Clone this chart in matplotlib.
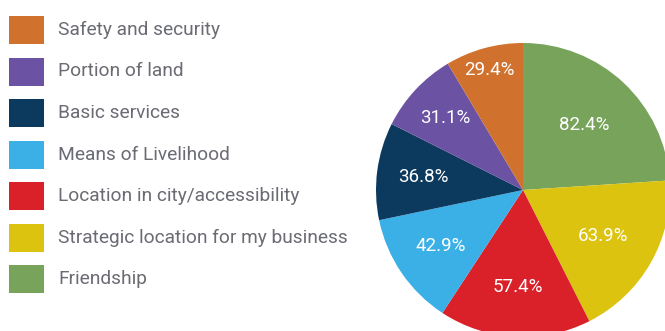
import matplotlib.pyplot as plt
from matplotlib.patches import Rectangle
import numpy as np

# Pie data, in drawing order (clockwise from the top)
labels = ['Friendship', 'Strategic location for my business', 'Location in city/accessibility',
          'Means of Livelihood', 'Basic services', 'Portion of land', 'Safety and security']
values = [82.4, 63.9, 57.4, 42.9, 36.8, 31.1, 29.4]
colors = ['#77A35A', '#DCC30F', '#DA2029', '#3AB0E6', '#0C3A5E', '#6B52A3', '#D0722E']

# how far out each percent label sits (fraction of radius)
label_dist = [0.61, 0.63, 0.66, 0.68, 0.68, 0.72, 0.85]

FONT = ['Roboto', 'DejaVu Sans']
W, H = 665, 331

fig = plt.figure(figsize=(W / 100, H / 100), dpi=100)

# pie centre (523,190) px, radius 147 px -- runs off the right/bottom edge
cx, cy, r = 523, 190, 147
ax = fig.add_axes([(cx - r) / W, (H - cy - r) / H, 2 * r / W, 2 * r / H])
ax.pie(values, colors=colors, startangle=90, counterclock=False,
       wedgeprops=dict(linewidth=0))
ax.set_xlim(-1, 1)
ax.set_ylim(-1, 1)
ax.set_aspect('equal')
ax.axis('off')

# percent labels (the values themselves, not share of total)
total = sum(values)
ang = 90.0
for v, d in zip(values, label_dist):
    span = v / total * 360
    mid = np.deg2rad(ang - span / 2)
    ax.text(d * np.cos(mid), d * np.sin(mid), f'{v:.1f}%', color='white',
            ha='center', va='center', fontsize=13.5, family=FONT)
    ang -= span

# legend, drawn by hand (Safety first, Friendship last)
y0, step = 30, 41.5
for i, (lab, col) in enumerate(zip(labels[::-1], colors[::-1])):
    yc = y0 + i * step
    fig.patches.append(Rectangle((9 / W, (H - yc - 14) / H), 35 / W, 28 / H,
                                 transform=fig.transFigure, facecolor=col, edgecolor='none'))
    fig.text(58 / W, (H - yc) / H, lab, color='#6A6B73', fontsize=13.8,
             ha='left', va='center', family=FONT)

fig.savefig('out.png', dpi=100)
